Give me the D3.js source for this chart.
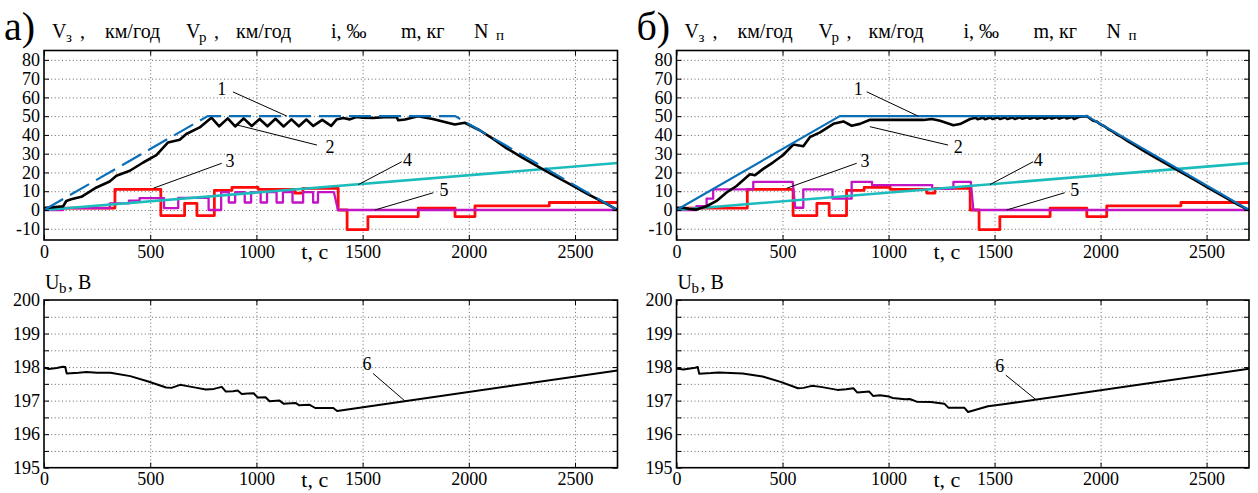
<!DOCTYPE html>
<html>
<head>
<meta charset="utf-8">
<script src="https://cdn.jsdelivr.net/npm/d3@7"></script>
<style>
  body { margin: 0; background: #fff; }
  svg { display: block; }
  .grid line { stroke: #666; stroke-width: 1; stroke-dasharray: 1 2.6; }
  .grid path { display: none; }
  .ax path { display: none; }
  .ax line { stroke: #000; stroke-width: 1; }
</style>
</head>
<body>
<svg id="chart" width="1258" height="493"></svg>
<script>
// ---- axes ----
const timeTicks = [0, 500, 1000, 1500, 2000, 2500];
const speedTicks = [-10, 0, 10, 20, 30, 40, 50, 60, 70, 80];
const voltageTicks = [195, 195.5, 196, 196.5, 197, 197.5, 198, 198.5, 199, 199.5, 200];

// ---- series: [t, value] ----
// 1: target speed, km/h
const targetSpeed = [[0, 0], [770, 50], [1936, 50], [2700, 0]];

// 3: track gradient, ‰
const gradient = [
  [0, 1], [334, 1], [334, 11], [550, 11], [550, -3], [662, -3], [662, 3.5], [720, 3.5],
  [720, -3], [802, -3], [802, 10.5], [885, 10.5], [885, 12], [1008, 12], [1008, 11],
  [1180, 11], [1180, 9], [1219, 9], [1219, 11.5], [1385, 11.5], [1385, 0], [1427, 0],
  [1427, -10.5], [1525, -10.5], [1525, -3.5], [1762, -3.5], [1762, 1], [1935, 1],
  [1935, -3.5], [2029, -3.5], [2029, 2.2], [2379, 2.2], [2379, 4], [2700, 4]
];

// 4: mass
const mass = [[0, 0], [2700, 25]];

// 2: actual speed, km/h (variant a)
const speedA = [
  [0, 1], [90, 2], [105, 4.8], [128, 5.7], [176, 7], [247, 12], [309, 15.2], [341, 18.2],
  [404, 20.9], [467, 25.3], [529, 29.2], [584, 36], [639, 37.4], [670, 40.5], [733, 44],
  [788, 49.2], [825, 44.6], [865, 48.8], [900, 44.5], [940, 48.8], [978, 44.8], [1015, 48.5],
  [1052, 44.6], [1090, 48.6], [1128, 44.5], [1165, 48.3], [1200, 44.6], [1235, 48.2],
  [1268, 44.8], [1310, 48], [1352, 44.8], [1377, 48.2], [1408, 49], [1440, 48.3],
  [1470, 49.6], [1500, 49.2], [1550, 49], [1600, 49.5], [1660, 49.6], [1668, 47.8],
  [1700, 48.2], [1760, 50], [1830, 48.5], [1934, 45.6], [1981, 46.5], [2051, 42.5],
  [2120, 37.5], [2177, 33], [2250, 28], [2320, 23.5], [2400, 18.5], [2480, 13.5],
  [2560, 8.5], [2640, 3.8], [2700, 0]
];

// 2: actual speed, km/h (variant b)
const speedB = [
  [0, 1], [31, 1.2], [60, 0.5], [94, 0.2], [142, 2], [189, 4.8], [236, 9.3], [283, 12.8],
  [346, 19], [370, 18.5], [409, 21.9], [456, 25.4], [503, 29.3], [551, 34.9], [598, 34],
  [629, 38.8], [677, 41.4], [740, 45.9], [787, 47.2], [826, 44.9], [865, 45.9], [913, 48.1],
  [1039, 48], [1165, 48], [1204, 48.5], [1243, 47.6], [1306, 45.2], [1337, 45.8],
  [1385, 48.5], [1410, 49.2], [1420, 48.4], [1445, 49.2], [1455, 48.4], [1480, 49.3],
  [1490, 48.5], [1515, 49.3], [1525, 48.5], [1550, 49.3], [1560, 48.5], [1585, 49.3],
  [1595, 48.5], [1620, 49.4], [1630, 48.6], [1655, 49.4], [1665, 48.6], [1690, 49.4],
  [1700, 48.6], [1725, 49.4], [1735, 48.6], [1760, 49.5], [1770, 48.7], [1795, 49.5],
  [1805, 48.7], [1830, 49.6], [1840, 48.8], [1865, 49.6], [1875, 48.5], [1900, 49.7],
  [1936, 50], [1950, 48.8], [1965, 47.6], [1980, 47.2], [2000, 45.6], [2020, 44.5],
  [2040, 42.8], [2060, 41.6], [2080, 40], [2100, 38.8], [2130, 36.6], [2160, 34.6],
  [2200, 31.8], [2250, 28.5], [2300, 25.3], [2350, 22], [2400, 18.8], [2450, 15.6],
  [2500, 12.3], [2550, 9.1], [2600, 5.9], [2650, 2.7], [2700, 0]
];

// 5: number of active motors (variant a)
const motorsA = [
  [0, 0], [90, 0], [90, 1], [310, 1], [310, 3.5], [400, 3.5], [400, 5], [450, 5],
  [450, 6.3], [565, 6.3], [565, 1], [632, 1], [632, 6.5], [775, 6.5], [775, 0], [834, 0],
  [834, 9.5], [870, 9.5], [870, 4], [900, 4], [900, 9.5], [945, 9.5], [945, 4], [975, 4],
  [975, 9.5], [1020, 9.5], [1020, 4], [1050, 4], [1050, 9.5], [1095, 9.5], [1095, 4],
  [1125, 4], [1125, 9.5], [1170, 9.5], [1170, 4], [1220, 4], [1220, 9.5], [1267, 9.5],
  [1267, 4], [1290, 4], [1290, 9.5], [1365, 9.5], [1384, 0], [2700, 0]
];

// 5: number of active motors (variant b)
const motorsB = [
  [0, 0], [94, 0], [94, 2], [142, 2], [142, 6], [173, 6], [173, 11], [362, 11], [362, 15],
  [548, 15], [560, 1.2], [598, 1.2], [598, 11], [736, 11], [736, 6], [826, 6], [826, 15],
  [922, 15], [922, 13.3], [1206, 13.3], [1206, 11.3], [1306, 11.3], [1306, 15], [1388, 15],
  [1400, 0], [2700, 0]
];

// 6: battery voltage, V
const voltageA = [
  [0, 197.99], [22, 197.94], [60, 197.97], [88, 198.01], [100, 198.0], [107, 197.81],
  [163, 197.83], [200, 197.85], [250, 197.83], [313, 197.83], [406, 197.73], [491, 197.57],
  [575, 197.39], [600, 197.38], [641, 197.47], [669, 197.44], [720, 197.38], [762, 197.33],
  [800, 197.35], [837, 197.41], [856, 197.27], [890, 197.28], [912, 197.30], [931, 197.20],
  [960, 197.21], [987, 197.22], [1006, 197.09], [1043, 197.10], [1062, 196.98], [1109, 197.0],
  [1128, 196.91], [1184, 196.93], [1202, 196.86], [1249, 196.88], [1277, 196.78],
  [1362, 196.78], [1380, 196.69], [2700, 197.9]
];
const voltageB = [
  [0, 197.96], [32, 197.93], [88, 197.98], [100, 198.0], [107, 197.80], [163, 197.82],
  [200, 197.84], [312, 197.81], [406, 197.72], [491, 197.56], [573, 197.37], [600, 197.38],
  [638, 197.44], [680, 197.41], [759, 197.32], [800, 197.34], [834, 197.37], [853, 197.24],
  [909, 197.27], [927, 197.14], [960, 197.16], [1002, 197.12], [1020, 197.08], [1077, 197.04],
  [1100, 197.05], [1133, 196.97], [1200, 196.96], [1263, 196.91], [1282, 196.79],
  [1357, 196.79], [1375, 196.66], [1469, 196.83], [1550, 196.9], [2700, 197.95]
];

// callouts: [label, labelT, labelV, fromT, fromV, toT, toV]
const calloutsA = [
  ["1", 837, 64.9, 890, 62.9, 1144, 50],
  ["2", 1347, 33.6, 909, 45.3, 1285, 34.6],
  ["3", 876, 26.3, 837, 24.9, 515, 11.6],
  ["4", 1711, 27, 1684, 25.7, 1480, 13.5],
  ["5", 1883, 10.7, 1833, 9.2, 1558, 0]
];
const calloutsB = [
  ["1", 857, 64.9, 897, 63, 1140, 50],
  ["2", 1329, 33.7, 912, 44.4, 1281, 34.6],
  ["3", 889, 26.1, 850, 24.9, 520, 11.6],
  ["4", 1706, 27, 1682, 25.7, 1478, 13.5],
  ["5", 1878, 10.7, 1831, 9.2, 1557, 0]
];
const calloutVoltA = [["6", 1521, 198.09, 1549, 197.81, 1699, 196.99]];
const calloutVoltB = [["6", 1525, 198.03, 1553, 197.76, 1695, 197.03]];

const C = {
  blue: "#0a6fb8", red: "#ff0a0a", magenta: "#c314c3", cyan: "#1cbcbc", black: "#000"
};
const SERIF = "'Liberation Serif'";

const svg = d3.select("#chart");
let clipId = 0;

function label(parent, x, y, size, txt) {
  return parent.append("text").attr("x", x).attr("y", y).attr("font-size", size)
    .style("font-family", SERIF).attr("fill", "#000").text(txt);
}

function drawPanel(o) {
  const x = d3.scaleLinear().domain([0, 2700]).range([o.x0, o.x1]);
  const y = d3.scaleLinear().domain(o.yDomain).range([o.y1, o.y0]);
  const g = svg.append("g");
  const w = o.x1 - o.x0, h = o.y1 - o.y0;

  // dotted grid
  g.append("g").attr("class", "grid").attr("transform", `translate(0,${o.y1})`)
    .call(d3.axisBottom(x).tickValues(timeTicks.slice(1)).tickSize(-h).tickFormat(""));
  g.append("g").attr("class", "grid").attr("transform", `translate(${o.x0},0)`)
    .call(d3.axisLeft(y).tickValues(o.yTicks.filter(v => v > o.yDomain[0] && v < o.yDomain[1]))
      .tickSize(-w).tickFormat(""));

  // series
  const id = "clip" + (clipId++);
  g.append("clipPath").attr("id", id).append("rect")
    .attr("x", o.x0).attr("y", o.y0).attr("width", w).attr("height", h);
  const line = d3.line().x(d => x(d[0])).y(d => y(d[1]));
  const plot = g.append("g").attr("clip-path", `url(#${id})`);
  o.series.forEach(s => {
    plot.append("path").datum(s.data).attr("d", line)
      .attr("fill", "none").attr("stroke", s.color).attr("stroke-width", s.width)
      .attr("stroke-linejoin", "round")
      .attr("stroke-dasharray", s.dash || null);
  });

  // frame and inward ticks on all sides
  g.append("rect").attr("x", o.x0).attr("y", o.y0).attr("width", w).attr("height", h)
    .attr("fill", "none").attr("stroke", "#000").attr("stroke-width", 1.6);
  const bottom = g.append("g").attr("class", "ax").attr("transform", `translate(0,${o.y1})`)
    .call(d3.axisBottom(x).tickValues(timeTicks).tickSize(-5).tickPadding(5)
      .tickFormat(d3.format("d")));
  g.append("g").attr("class", "ax").attr("transform", `translate(0,${o.y0})`)
    .call(d3.axisTop(x).tickValues(timeTicks).tickSize(-5).tickFormat(""));
  const left = g.append("g").attr("class", "ax").attr("transform", `translate(${o.x0},0)`)
    .call(d3.axisLeft(y).tickValues(o.yTicks).tickSize(-5).tickPadding(4)
      .tickFormat(v => Number.isInteger(v) ? v : ""));
  g.append("g").attr("class", "ax").attr("transform", `translate(${o.x1},0)`)
    .call(d3.axisRight(y).tickValues(o.yTicks).tickSize(-5).tickFormat(""));
  [bottom, left].forEach(a => {
    a.attr("font-family", null).attr("font-size", 18);
    a.selectAll("text").style("font-family", SERIF).attr("fill", "#000");
  });

  // time axis caption
  label(g, x(1275), o.y1 + 19, 22, "t, с").attr("text-anchor", "middle");

  // callouts
  o.callouts.forEach(c => {
    g.append("line").attr("x1", x(c[3])).attr("y1", y(c[4]))
      .attr("x2", x(c[5])).attr("y2", y(c[6]))
      .attr("stroke", "#000").attr("stroke-width", 1);
    label(g, x(c[1]), y(c[2]), 18, c[0]).attr("dy", "0.35em").attr("text-anchor", "middle");
  });
  return g;
}

function speedHeader(x0, letter) {
  const t = (dx, dy, size, txt) => label(svg, x0 + dx, 38 + dy, size, txt);
  label(svg, x0 - 40, 40, 40, letter);
  t(8, 0, 20, "V"); t(22, 4, 15, "з"); t(36, 0, 20, ","); t(61, 0, 20, "км/год");
  t(142, 0, 20, "V"); t(155, 4, 15, "p"); t(170, 0, 20, ","); t(192, 0, 20, "км/год");
  t(287, 0, 20, "i, ‰");
  t(357, 0, 20, "m, кг");
  t(430, 0, 20, "N"); t(452, 2, 15, "п");
}

function voltHeader(x0) {
  label(svg, x0 + 1, 289, 20, "U");
  label(svg, x0 + 15, 293, 15, "b");
  label(svg, x0 + 24, 289, 20, ", В");
}

const panels = [
  { x0: 44, x1: 617.5, speed: speedA, motors: motorsA, volt: voltageA, letter: "а)",
    dash: "22 8", callouts: calloutsA, voltCallouts: calloutVoltA },
  { x0: 676.5, x1: 1249, speed: speedB, motors: motorsB, volt: voltageB, letter: "б)",
    dash: null, callouts: calloutsB, voltCallouts: calloutVoltB }
];

panels.forEach(p => {
  drawPanel({
    x0: p.x0, x1: p.x1, y0: 50.5, y1: 240, yDomain: [-16, 85], yTicks: speedTicks,
    callouts: p.callouts,
    series: [
      { data: gradient, color: C.red, width: 2.8 },
      { data: p.motors, color: C.magenta, width: 2.3 },
      { data: mass, color: C.cyan, width: 2.6 },
      { data: p.speed, color: C.black, width: 2.6 },
      { data: targetSpeed, color: C.blue, width: 2.2, dash: p.dash }
    ]
  });
  speedHeader(p.x0, p.letter);

  drawPanel({
    x0: p.x0, x1: p.x1, y0: 300, y1: 467.7, yDomain: [195, 200], yTicks: voltageTicks,
    callouts: p.voltCallouts,
    series: [{ data: p.volt, color: C.black, width: 2 }]
  });
  voltHeader(p.x0);
});
</script>
</body>
</html>
